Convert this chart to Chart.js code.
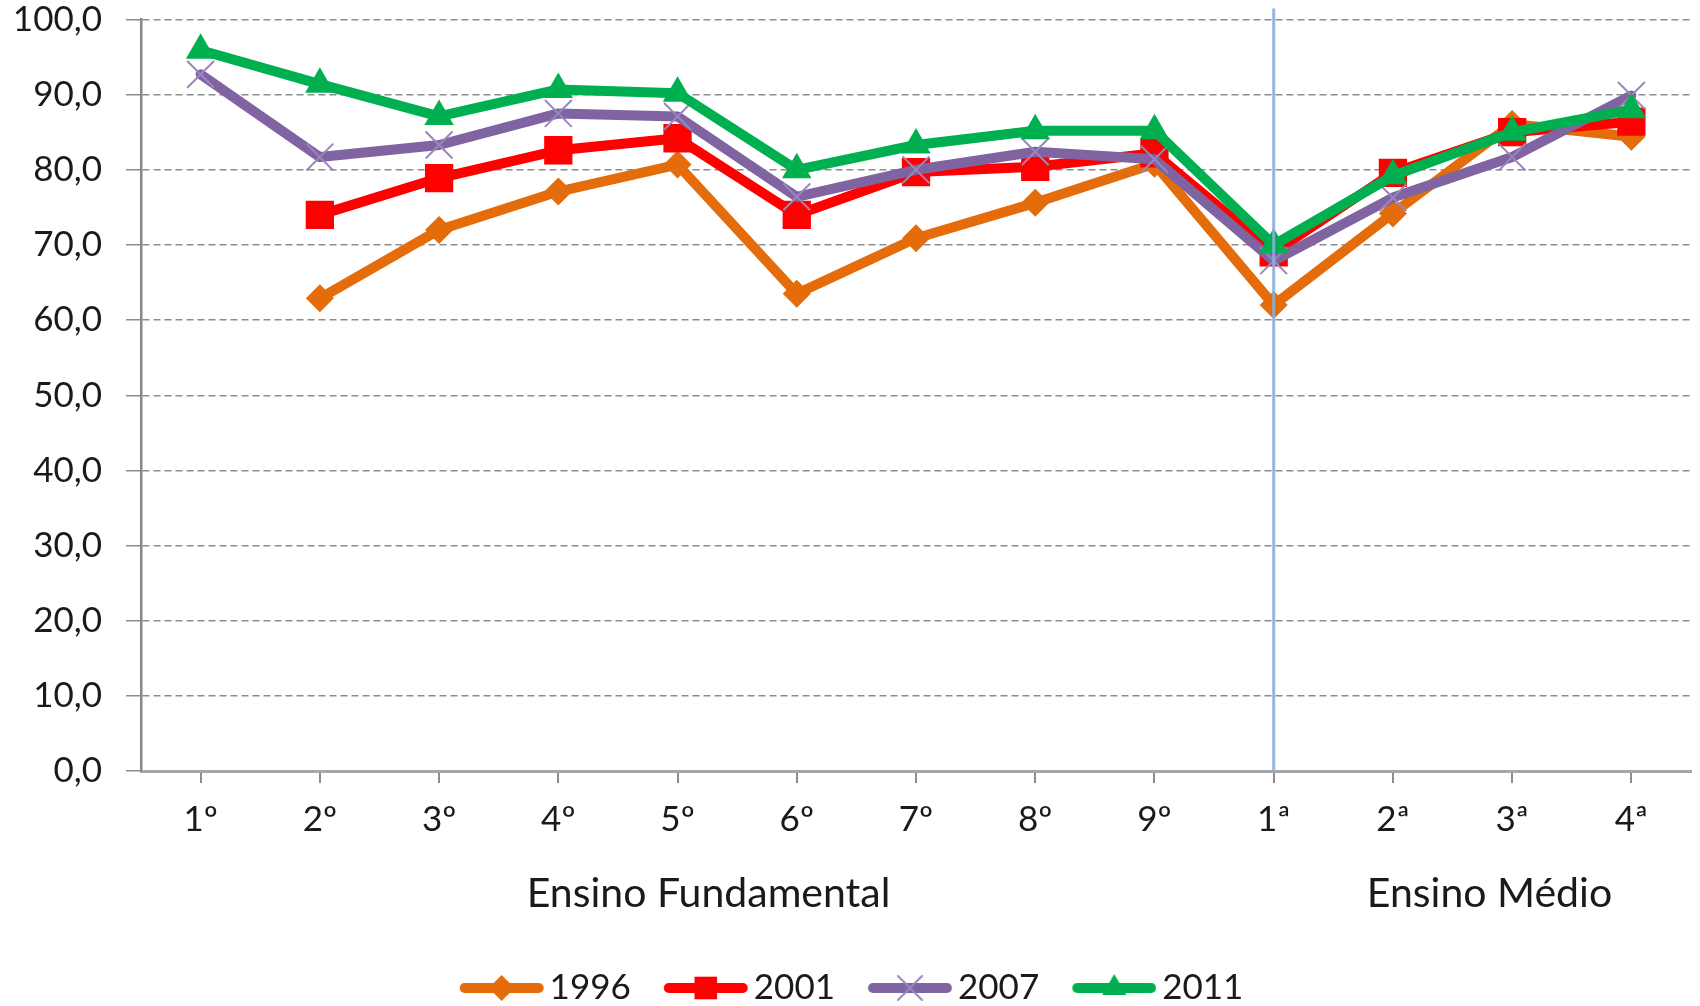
<!DOCTYPE html>
<html>
<head>
<meta charset="utf-8">
<script src="https://cdn.jsdelivr.net/npm/chart.js@4/dist/chart.umd.min.js"></script>
<style>
  body { margin: 0; background: #fff; }
  #wrap { width: 1700px; height: 1006px; }
</style>
</head>
<body>
<div id="wrap"><canvas id="chart" width="1700" height="1006"></canvas></div>
<script>
// grade labels (Ensino Fundamental 1º-9º, Ensino Médio 1ª-4ª)
const grades = ['1º', '2º', '3º', '4º', '5º', '6º', '7º', '8º', '9º', '1ª', '2ª', '3ª', '4ª'];
const years = ['1996', '2001', '2007', '2011'];

// values
const v1996 = [null, 62.9, 72.0, 77.1, 80.7, 63.5, 70.9, 75.6, 80.8, 62.0, 74.2, 86.1, 84.4];
const v2001 = [null, 74.0, 78.9, 82.6, 84.2, 74.0, 79.7, 80.4, 82.2, 69.0, 79.6, 85.0, 86.4];
const v2007 = [92.7, 81.7, 83.3, 87.5, 87.1, 76.4, 80.0, 82.4, 81.4, 67.9, 76.3, 81.7, 89.9];
const v2011 = [95.9, 91.4, 87.1, 90.7, 90.2, 80.0, 83.3, 85.2, 85.2, 70.0, 79.2, 85.0, 88.0];

const yTicks = [0, 10, 20, 30, 40, 50, 60, 70, 80, 90, 100];

// group captions under the x axis (position = category index)
const groups = [
    { text: 'Ensino Fundamental', at: 4.26 },
    { text: 'Ensino Médio', at: 10.81 }
];
const splitAt = 9; // the 1ª column, where the blue divider sits

const colors = ['#E46C0A', '#FF0000', '#8064A2', '#00B050'];
const FONT = 'Lato, "Open Sans", sans-serif';

Chart.defaults.font.family = FONT;
Chart.defaults.color = '#1a1a1a';

// little marker drawing for the legend icons
function drawMarker(ctx, style, x, y, r, color) {
    ctx.fillStyle = color;
    ctx.strokeStyle = color;
    ctx.beginPath();
    if (style === 'rectRot') {
        ctx.moveTo(x, y - r); ctx.lineTo(x + r, y); ctx.lineTo(x, y + r); ctx.lineTo(x - r, y);
        ctx.closePath(); ctx.fill();
    } else if (style === 'rect') {
        let s = r * Math.SQRT1_2;
        ctx.rect(x - s, y - s, 2 * s, 2 * s); ctx.fill();
    } else if (style === 'triangle') {
        let e = r * 3 / Math.sqrt(3), h = e * Math.sqrt(3) / 2;
        ctx.moveTo(x - e / 2, y + h / 3); ctx.lineTo(x + e / 2, y + h / 3); ctx.lineTo(x, y - 2 * h / 3);
        ctx.closePath(); ctx.fill();
    } else if (style === 'crossRot') {
        let d = r * Math.SQRT1_2;
        ctx.lineWidth = 2;
        ctx.strokeStyle = '#9a86bd';
        ctx.moveTo(x - d, y - d); ctx.lineTo(x + d, y + d);
        ctx.moveTo(x + d, y - d); ctx.lineTo(x - d, y + d);
        ctx.stroke();
    }
}

// icon canvas is wider than the drawing so the line+marker sits
// flush with the item start and close to the text
function legendIcon(color, style, r) {
    let c = document.createElement('canvas');
    c.width = 96; c.height = 34;
    let g = c.getContext('2d');
    let L = 11.75;
    g.strokeStyle = color;
    g.lineWidth = 10;
    g.lineCap = 'round';
    g.beginPath(); g.moveTo(L + 5, 17); g.lineTo(L + 79, 17); g.stroke();
    drawMarker(g, style, L + 42, 17, r, color);
    return c;
}

const styles = ['rectRot', 'rect', 'crossRot', 'triangle'];
const radii = [14, 20, 19, 17];
const legendRadii = [13, 16, 17, 14];
const icons = colors.map((c, i) => legendIcon(c, styles[i], legendRadii[i]));

function makeSet(i, data) {
    return {
        label: years[i],
        data: data,
        borderColor: colors[i],
        backgroundColor: colors[i],
        borderWidth: 10,
        borderJoinStyle: 'round',
        borderCapStyle: 'round',
        pointStyle: styles[i],
        pointRadius: radii[i],
        pointBackgroundColor: colors[i],
        pointBorderColor: i === 2 ? '#9a86bd' : colors[i],
        pointBorderWidth: i === 2 ? 2 : 0,
        tension: 0,
        order: 4 - i // 2011 drawn on top
    };
}

// divider line + group captions
const extras = {
    id: 'extras',
    afterDatasetsDraw(chart) {
        const ctx = chart.ctx, xs = chart.scales.x, area = chart.chartArea;
        let x = xs.getPixelForValue(splitAt);
        ctx.save();
        ctx.strokeStyle = 'rgba(140,174,218,0.9)';
        ctx.lineWidth = 3;
        ctx.beginPath();
        ctx.moveTo(x, area.top - 11);
        ctx.lineTo(x, area.bottom);
        ctx.stroke();
        ctx.restore();
    },
    afterDraw(chart) {
        const ctx = chart.ctx, xs = chart.scales.x;
        ctx.save();
        ctx.font = '41px ' + FONT;
        ctx.fillStyle = '#1a1a1a';
        ctx.textAlign = 'center';
        ctx.textBaseline = 'middle';
        groups.forEach(g => {
            ctx.fillText(g.text, xs.getPixelForValue(g.at), 894);
        });
        ctx.restore();
    }
};

new Chart(document.getElementById('chart'), {
    type: 'line',
    data: {
        labels: grades,
        datasets: [makeSet(0, v1996), makeSet(1, v2001), makeSet(2, v2007), makeSet(3, v2011)]
    },
    options: {
        responsive: false,
        animation: false,
        layout: { autoPadding: false, padding: { top: 19.5, right: 9, left: 12, bottom: -9.5 } },
        plugins: {
            tooltip: { enabled: false },
            legend: {
                position: 'bottom',
                labels: {
                    usePointStyle: true,
                    pointStyleWidth: 72.5,
                    padding: 33,
                    font: { size: 35 },
                    color: '#1a1a1a',
                    sort: (a, b) => a.datasetIndex - b.datasetIndex,
                    generateLabels(chart) {
                        let items = Chart.defaults.plugins.legend.labels.generateLabels(chart);
                        items.forEach(it => { it.pointStyle = icons[it.datasetIndex]; it.rotation = 0; });
                        return items;
                    }
                }
            }
        },
        scales: {
            x: {
                offset: true,
                grid: {
                    drawOnChartArea: false,
                    drawTicks: true,
                    tickLength: 12,
                    color: '#8c8c8c',
                    lineWidth: 2
                },
                border: { display: true, color: '#a6a6a6', width: 3 },
                ticks: { font: { size: 35 }, padding: 16, maxRotation: 0, autoSkip: false },
                afterFit(scale) {
                    scale.height = 166.5;
                    scale.paddingLeft = 0;
                    scale.paddingRight = 0;
                }
            },
            y: {
                min: 0,
                max: 100,
                afterBuildTicks(scale) { scale.ticks = yTicks.map(v => ({ value: v })); },
                grid: {
                    color: '#8c8c8c',
                    lineWidth: 1.5,
                    tickLength: 15,
                    tickColor: '#8c8c8c',
                    tickBorderDash: []
                },
                border: { display: true, color: '#868686', width: 2.5, dash: [7, 4] },
                ticks: {
                    font: { size: 35 },
                    padding: 24,
                    callback: v => v.toFixed(1).replace('.', ',')
                },
                afterFit(scale) {
                    scale.width = 129;
                    // keep the label padding from pushing the plot down
                    scale.paddingTop = 0;
                    scale.paddingBottom = 0;
                }
            }
        }
    },
    plugins: [extras]
});
</script>
</body>
</html>
